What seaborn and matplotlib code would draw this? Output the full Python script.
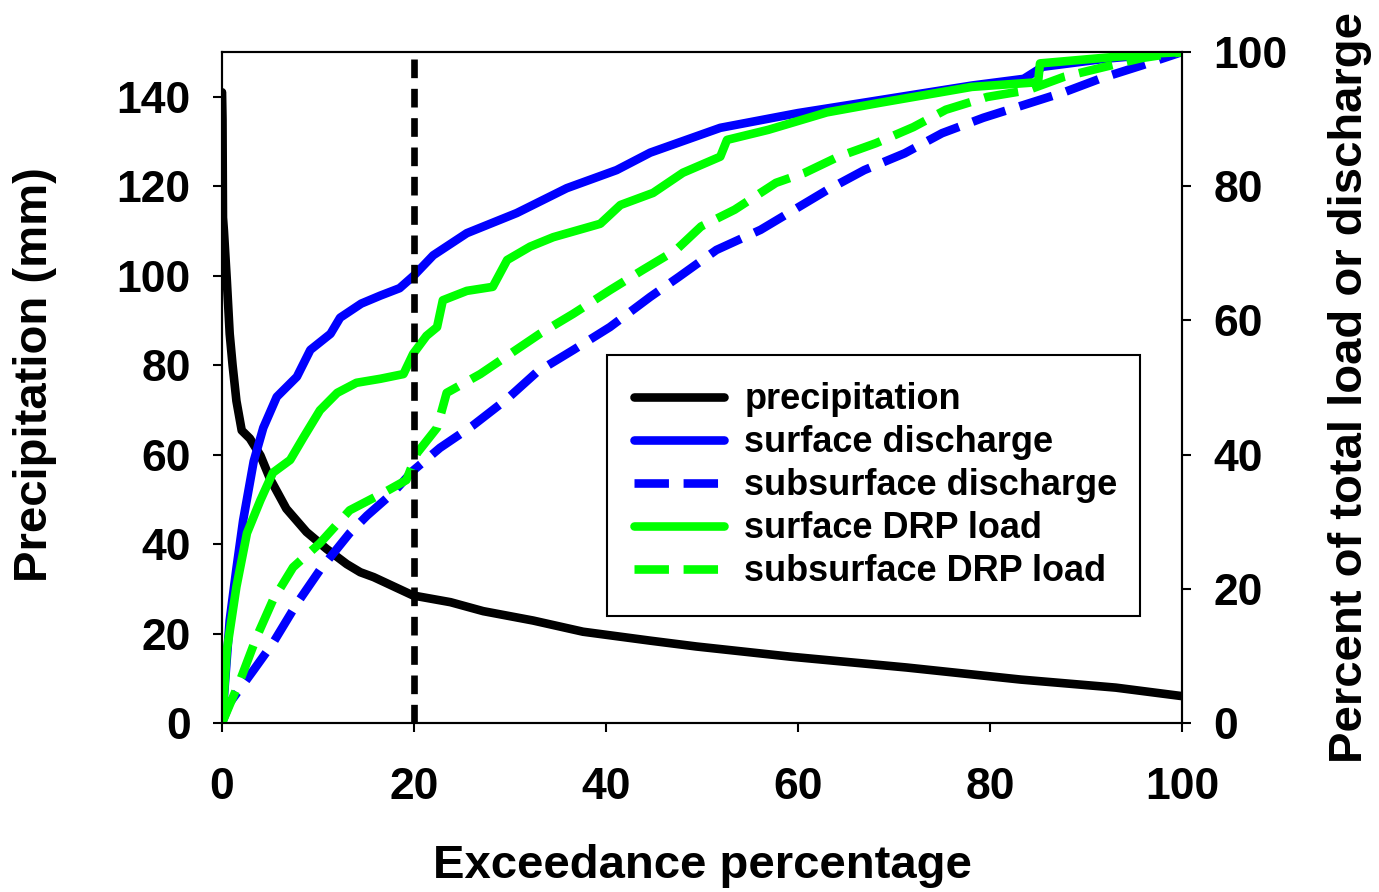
"""
plot.py

Exceedance curves of precipitation, discharge and DRP load.
"""

import matplotlib.pyplot as plt
import seaborn as sns


# ==========================================================
# Data
# ==========================================================

precip_x = [
    0, 0.05, 0.1, 0.2, 0.5, 0.8, 1.1, 1.5, 2.05, 2.9, 4.0, 5.0, 6.7,
    8.8, 10.9, 13.0, 14.4, 15.8, 17.8, 19.9, 23.8, 27.2, 32.4, 37.6,
    44.6, 49.4, 59.3, 71.3, 83.2, 93.1, 100,
]
precip_mm = [
    141, 135, 113, 110, 99, 87, 80, 72, 65.4, 63.6, 59.8, 54.6, 47.9,
    42.7, 38.9, 35.5, 33.7, 32.6, 30.6, 28.5, 27.0, 25.0, 22.9, 20.4,
    18.4, 17.1, 14.8, 12.4, 9.7, 7.9, 6.0,
]

surf_q_x = [
    0, 0.15, 0.8, 1.5, 2.2, 3.3, 4.3, 5.7, 7.8, 9.2, 11.3, 12.3, 14.5,
    16.5, 18.5, 20, 22, 25.5, 30.7, 35.9, 41.1, 44.6, 51.9, 60, 68.4,
    78.1, 83.5, 85.5, 92, 100,
]
surf_q = [
    0, 3, 15.3, 23, 30.2, 39, 44, 48.6, 51.6, 55.6, 58, 60.4, 62.5,
    63.7, 64.8, 66.7, 69.7, 73, 76, 79.7, 82.4, 85, 88.7, 90.9, 92.8,
    95, 96, 97.8, 99, 100,
]

sub_q_x = [
    0, 0.8, 3.3, 5.3, 7.8, 10.2, 13.3, 15.1, 17.8, 19.9, 22.7, 26.1,
    29.7, 32.8, 36.6, 40.4, 44.6, 47.6, 51.5, 56.1, 63.0, 66.9, 71.1,
    75.0, 79.3, 83.5, 87.7, 91.6, 95.8, 100,
]
sub_q = [
    0, 3, 7.9, 11.9, 17.8, 22.8, 28.3, 30.9, 34.3, 37.6, 41, 44.3,
    48.3, 52.3, 55.6, 59, 63.5, 66.5, 70.5, 73.5, 79.4, 82.4, 84.9,
    87.9, 90.2, 92.1, 94, 96.1, 98, 100,
]

surf_drp_x = [
    0, 0.5, 1.5, 2.6, 4.0, 5.3, 7.1, 8.5, 10.2, 12.0, 14.0, 16.5, 18.9,
    19.9, 21.3, 22.4, 23.0, 25.5, 28.2, 29.7, 32.1, 34.5, 39.4, 41.5,
    44.9, 48.0, 51.9, 52.6, 56.9, 63.0, 68.4, 78.1, 85.0, 85.2, 91.6,
    97.4, 100,
]
surf_drp = [
    0, 10.8, 20.3, 28.3, 33.2, 37.3, 39.2, 42.6, 46.6, 49.2, 50.7, 51.3,
    52.0, 55.0, 57.7, 59.0, 63.0, 64.4, 65.0, 69.0, 71.0, 72.4, 74.4,
    77.2, 79.0, 82.0, 84.4, 86.9, 88.4, 91.0, 92.4, 94.8, 95.5, 98.3,
    99.1, 99.8, 100,
]

sub_drp_x = [
    0, 1.9, 3.6, 5.3, 7.4, 10.2, 13.3, 17.2, 19.2, 20.3, 22.4, 23.4,
    26.9, 30.0, 33.1, 36.6, 40.4, 43.8, 47.3, 49.9, 53.4, 57.7, 60.7,
    64.2, 68.1, 72.0, 75.4, 79.7, 83.9, 87.7, 92.0, 95.8, 100,
]
sub_drp = [
    0, 6.4, 12.8, 18.3, 23.2, 26.8, 31.7, 34.6, 36.2, 40.2, 44.0, 49.2,
    52.0, 55.0, 58.0, 61.0, 64.5, 67.5, 70.5, 74.0, 76.5, 80.5, 82.0,
    84.4, 86.4, 88.8, 91.4, 93.3, 94.3, 96.3, 97.8, 99.1, 100,
]

series_labels = [
    "precipitation",
    "surface discharge",
    "subsurface discharge",
    "surface DRP load",
    "subsurface DRP load",
]

marker_exceedance = 20


# ==========================================================
# Plot
# ==========================================================

def draw_line(ax, x, y, color, dashed=False):
    """
    Draw one curve through seaborn and return the Line2D.
    """

    style = (0, (4, 1.7)) if dashed else "-"

    sns.lineplot(
        x=x,
        y=y,
        ax=ax,
        color=color,
        linewidth=6.2,
        linestyle=style,
        estimator=None,
        sort=False,
        legend=False,
    )

    return ax.get_lines()[-1]


def make_figure() -> None:

    sns.set_style("ticks")

    plt.rcParams["font.family"] = ["Liberation Sans", "DejaVu Sans"]
    plt.rcParams["font.weight"] = "bold"
    plt.rcParams["axes.labelweight"] = "bold"
    plt.rcParams["text.color"] = "black"
    plt.rcParams["axes.labelcolor"] = "black"

    fig = plt.figure(figsize=(13.79, 8.92), dpi=100)

    ax = fig.add_axes([0.161, 0.1895, 0.6962, 0.7522])
    ax2 = ax.twinx()

    handles = [
        draw_line(ax, precip_x, precip_mm, "black"),
        draw_line(ax2, surf_q_x, surf_q, "#0000ff"),
        draw_line(ax2, sub_q_x, sub_q, "#0000ff", dashed=True),
        draw_line(ax2, surf_drp_x, surf_drp, "#00ff00"),
        draw_line(ax2, sub_drp_x, sub_drp, "#00ff00", dashed=True),
    ]

    ax2.axvline(
        marker_exceedance,
        color="black",
        linewidth=4.8,
        linestyle=(0, (2.8, 1.6)),
    )

    # axes limits and ticks
    ax.set_xlim(0, 100)
    ax.set_ylim(0, 150)
    ax2.set_ylim(0, 100)

    ax.set_xticks(range(0, 101, 20))
    ax.set_yticks(range(0, 141, 20))
    ax2.set_yticks(range(0, 101, 20))

    for axis in (ax, ax2):
        for spine in axis.spines.values():
            spine.set_linewidth(1.5)
            spine.set_color("black")

    ax.tick_params(
        axis="y", direction="out", length=6.5, width=1.5,
        labelsize=32, pad=16, colors="black",
    )
    ax.tick_params(
        axis="x", direction="out", length=6.5, width=1.5,
        labelsize=32, pad=25, colors="black",
    )
    ax2.tick_params(
        axis="y", direction="out", length=6.5, width=1.5,
        labelsize=32, pad=16, colors="black",
    )

    # labels
    ax.set_xlabel("Exceedance percentage", fontsize=34)
    ax.set_ylabel("Precipitation (mm)", fontsize=34)
    ax2.set_ylabel("Percent of total load or discharge", fontsize=34)

    ax.xaxis.set_label_coords(0.5, -0.18)
    ax.yaxis.set_label_coords(-0.172, 0.52)
    ax2.yaxis.set_label_coords(1.152, 0.5)

    # legend
    legend = ax2.legend(
        handles,
        series_labels,
        loc="upper left",
        bbox_to_anchor=(0.401, 0.173, 0.555, 0.375),
        mode="expand",
        borderaxespad=0,
        fontsize=26,
        frameon=True,
        fancybox=False,
        framealpha=1,
        edgecolor="black",
        handlelength=2.5,
        handletextpad=0.55,
        labelspacing=0.22,
        borderpad=0.75,
    )
    legend.get_frame().set_linewidth(1.5)

    fig.savefig("out.png", dpi=100)

    plt.close(fig)


# ==========================================================
# Main
# ==========================================================

if __name__ == "__main__":

    make_figure()
